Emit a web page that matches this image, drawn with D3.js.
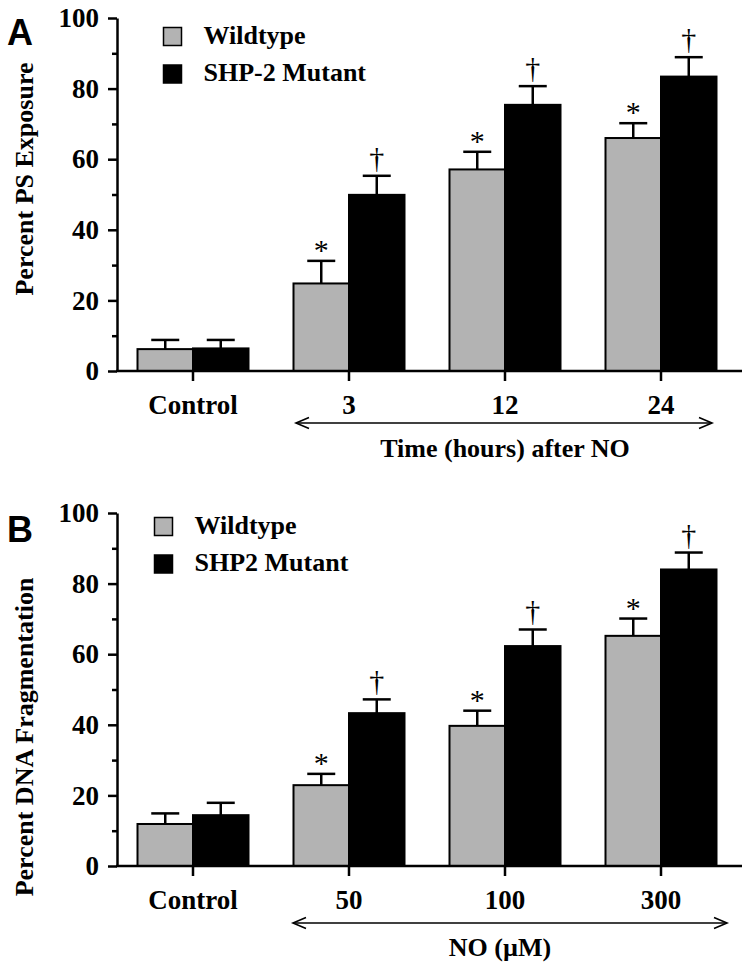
<!DOCTYPE html>
<html>
<head>
<meta charset="utf-8">
<script src="https://cdn.jsdelivr.net/npm/d3@7"></script>
<style>
  html, body { margin: 0; padding: 0; background: #fff; }
  svg { display: block; }
  .serif { font-family: "Liberation Serif", "Times New Roman", serif; font-weight: bold; }
</style>
</head>
<body>
<svg id="chart" width="750" height="966"></svg>
<script>
// ---------- DATA ----------
const seriesNames = ["wildtype", "mutant"];
const seriesColors = ["#b3b3b3", "#000000"];

// Panel A: Percent PS Exposure vs time after NO
const categoriesA = ["Control", "3", "12", "24"];
const wildtypeA = [6.2, 24.8, 57.1, 66.0];
const wildtypeErrA = [2.6, 6.4, 5.0, 4.2];
const mutantA = [6.4, 49.9, 75.4, 83.4];
const mutantErrA = [2.4, 5.4, 5.3, 5.5];
const legendA = ["Wildtype", "SHP-2 Mutant"];
const yTitleA = "Percent PS Exposure";
const xTitleA = "Time (hours) after NO";

// Panel B: Percent DNA Fragmentation vs NO concentration
const categoriesB = ["Control", "50", "100", "300"];
const wildtypeB = [11.9, 22.9, 39.7, 65.2];
const wildtypeErrB = [3.0, 3.2, 4.3, 4.9];
const mutantB = [14.4, 43.3, 62.3, 84.0];
const mutantErrB = [3.5, 3.9, 4.7, 4.8];
const legendB = ["Wildtype", "SHP2 Mutant"];
const yTitleB = "Percent DNA Fragmentation";
const xTitleB = "NO (\u00B5M)";

// Significance markers (wildtype: *, mutant: †), blank for control
const markWildtype = ["", "*", "*", "*"];
const markMutant = ["", "\u2020", "\u2020", "\u2020"];

const yTicksMajor = [0, 20, 40, 60, 80, 100];
const yTicksMinor = [10, 30, 50, 70, 90];

// ---------- DRAW ----------
const svg = d3.select("#chart");

function drawPanel(cfg) {
  const g = svg.append("g");
  const x0 = d3.scaleBand().domain(cfg.categories).range([cfg.left - 2, cfg.right - 3]).paddingInner(0).paddingOuter(0);
  const groupW = 111;
  const x1 = d3.scaleBand().domain(seriesNames).range([-groupW / 2, groupW / 2]).padding(0);
  const y = d3.scaleLinear().domain([0, 100]).range([cfg.bottom, cfg.top]);

  const rows = cfg.categories.map((c, i) => ({
    cat: c,
    vals: [
      { s: "wildtype", v: cfg.wt[i], e: cfg.wtErr[i], m: markWildtype[i], color: seriesColors[0] },
      { s: "mutant", v: cfg.mu[i], e: cfg.muErr[i], m: markMutant[i], color: seriesColors[1] }
    ]
  }));

  const grp = g.selectAll("g.grp").data(rows).join("g")
    .attr("transform", d => `translate(${x0(d.cat) + x0.bandwidth() / 2},0)`);

  // error bars
  grp.selectAll("line.err").data(d => d.vals).join("line")
    .attr("x1", d => x1(d.s) + x1.bandwidth() / 2)
    .attr("x2", d => x1(d.s) + x1.bandwidth() / 2)
    .attr("y1", d => y(d.v))
    .attr("y2", d => y(d.v + d.e))
    .attr("stroke", "#000").attr("stroke-width", 2.5);
  grp.selectAll("line.cap").data(d => d.vals).join("line")
    .attr("x1", d => x1(d.s) + x1.bandwidth() / 2 - 14)
    .attr("x2", d => x1(d.s) + x1.bandwidth() / 2 + 14)
    .attr("y1", d => y(d.v + d.e))
    .attr("y2", d => y(d.v + d.e))
    .attr("stroke", "#000").attr("stroke-width", 2.5);

  // bars
  grp.selectAll("rect").data(d => d.vals).join("rect")
    .attr("x", d => x1(d.s))
    .attr("width", x1.bandwidth())
    .attr("y", d => y(d.v))
    .attr("height", d => y(0) - y(d.v))
    .attr("fill", d => d.color)
    .attr("stroke", "#000").attr("stroke-width", 2);

  // markers
  grp.selectAll("text.mark").data(d => d.vals.filter(v => v.m)).join("text")
    .attr("x", d => x1(d.s) + x1.bandwidth() / 2)
    .attr("y", d => y(d.v + d.e) - (d.m === "*" ? 1 : 8))
    .attr("text-anchor", "middle")
    .style("font-family", "'Liberation Serif', 'Times New Roman', serif")
    .style("font-weight", "normal")
    .style("font-size", d => d.m === "*" ? "30px" : "30px")
    .text(d => d.m);

  // y axis
  const yAxis = d3.axisLeft(y).tickValues(yTicksMajor).tickSize(9).tickPadding(9).tickSizeOuter(0);
  const ya = g.append("g").attr("transform", `translate(${cfg.left},0)`).call(yAxis);
  ya.select(".domain").attr("stroke", "#000").attr("stroke-width", 2.5);
  ya.selectAll(".tick line").attr("stroke", "#000").attr("stroke-width", 2.5);
  ya.selectAll(".tick text").attr("class", "serif").style("font-size", "27px").attr("fill", "#000");
  const yMinor = d3.axisLeft(y).tickValues(yTicksMinor).tickSize(5).tickFormat("");
  const ym = g.append("g").attr("transform", `translate(${cfg.left},0)`).call(yMinor);
  ym.select(".domain").remove();
  ym.selectAll(".tick line").attr("stroke", "#000").attr("stroke-width", 2.5);

  // x axis
  const xAxis = d3.axisBottom(x0).tickSize(10).tickPadding(14).tickSizeOuter(0);
  const xa = g.append("g").attr("transform", `translate(0,${cfg.bottom})`).call(xAxis);
  xa.select(".domain").attr("d", `M${cfg.left - 1},0H${cfg.right}`).attr("stroke", "#000").attr("stroke-width", 2.5);
  xa.selectAll(".tick line").attr("stroke", "#000").attr("stroke-width", 2.5);
  xa.selectAll(".tick text").attr("class", "serif").style("font-size", "27px").attr("fill", "#000");

  // double-headed arrow
  const ax1 = cfg.arrowL, ax2 = cfg.arrowR, ay = cfg.arrowY;
  g.append("line").attr("x1", ax1).attr("x2", ax2).attr("y1", ay).attr("y2", ay)
    .attr("stroke", "#000").attr("stroke-width", 1.6);
  g.append("path").attr("d", `M${ax1 + 13},${ay - 5.5}L${ax1},${ay}L${ax1 + 13},${ay + 5.5}`)
    .attr("fill", "none").attr("stroke", "#000").attr("stroke-width", 1.6);
  g.append("path").attr("d", `M${ax2 - 13},${ay - 5.5}L${ax2},${ay}L${ax2 - 13},${ay + 5.5}`)
    .attr("fill", "none").attr("stroke", "#000").attr("stroke-width", 1.6);

  // x title
  g.append("text").attr("class", "serif").attr("x", cfg.xTitleX).attr("y", cfg.xTitleY)
    .attr("text-anchor", "middle").style("font-size", "26px").text(cfg.xTitle);

  // y title
  g.append("text").attr("class", "serif")
    .attr("transform", `translate(${cfg.yTitleX},${cfg.yTitleY}) rotate(-90)`)
    .attr("text-anchor", "middle").style("font-size", "26px").text(cfg.yTitle);

  // panel letter
  g.append("text").attr("x", 7).attr("y", cfg.letterY)
    .style("font-family", "'Liberation Sans', Arial, sans-serif").style("font-weight", "bold")
    .style("font-size", "36px").text(cfg.letter);

  // legend
  const lg = g.append("g");
  cfg.legend.forEach((lab, i) => {
    lg.append("rect").attr("x", cfg.legX).attr("y", cfg.legY + i * 37.5)
      .attr("width", 18).attr("height", 18)
      .attr("fill", seriesColors[i]).attr("stroke", "#000").attr("stroke-width", 1.5);
    lg.append("text").attr("class", "serif").attr("x", cfg.legX + 40).attr("y", cfg.legY + 16 + i * 37.5)
      .style("font-size", "26px").text(lab);
  });
}

drawPanel({
  categories: categoriesA, wt: wildtypeA, wtErr: wildtypeErrA, mu: mutantA, muErr: mutantErrA,
  legend: legendA, yTitle: yTitleA, xTitle: xTitleA, letter: "A",
  left: 117, right: 742, top: 18, bottom: 371,
  arrowL: 296, arrowR: 712, arrowY: 423, xTitleX: 505, xTitleY: 457,
  yTitleX: 33, yTitleY: 179, letterY: 45, legX: 163.5, legY: 27.5
});

drawPanel({
  categories: categoriesB, wt: wildtypeB, wtErr: wildtypeErrB, mu: mutantB, muErr: mutantErrB,
  legend: legendB, yTitle: yTitleB, xTitle: xTitleB, letter: "B",
  left: 117, right: 742, top: 513, bottom: 866,
  arrowL: 293, arrowR: 727, arrowY: 923, xTitleX: 500, xTitleY: 956,
  yTitleX: 33, yTitleY: 737, letterY: 542, legX: 154.5, legY: 517.5
});
</script>
</body>
</html>
